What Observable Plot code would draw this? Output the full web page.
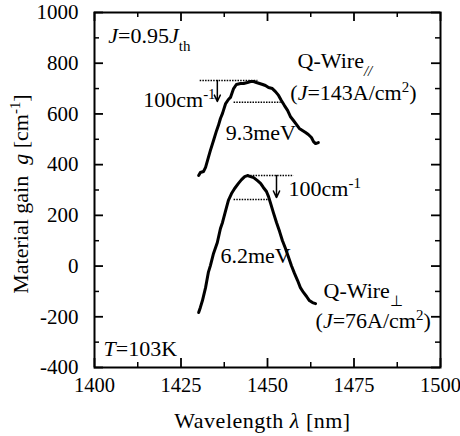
<!DOCTYPE html>
<html><head><meta charset="utf-8">
<script src="https://cdn.jsdelivr.net/npm/d3@7"></script>
<script src="https://cdn.jsdelivr.net/npm/@observablehq/plot@0.6"></script>
<style>html,body{margin:0;padding:0;background:#fff;}</style>
</head><body><div id="chart"></div>
<script>
// ---- scales / ticks ----
const xDomain = [1400, 1500];
const yDomain = [-400, 1000];
const xMajor = [1400, 1425, 1450, 1475, 1500];
const xMinor = [1412.5, 1437.5, 1462.5, 1487.5];
const yMajor = [-400, -200, 0, 200, 400, 600, 800, 1000];
const yMinor = [-300, -100, 100, 300, 500, 700, 900];

// ---- Q-Wire// (J=143A/cm2) ----
const parWl = [1430.1,1430.6,1431.5,1432.1,1432.9,1433.5,1434.4,1435.3,1435.8,1436.4,1437.0,1437.9,1438.7,1439.3,1440.2,1441.0,1442.2,1443.1,1444.2,1445.1,1446.0,1446.8,1447.7,1448.6,1449.4,1450.3,1451.4,1452.3,1453.2,1454.0,1454.9,1455.8,1456.6,1457.5,1458.4,1459.2,1460.1,1461.0,1461.8,1462.7,1463.3,1463.9,1464.7];
const parGain = [357,369,373,389,428,456,495,535,554,582,602,641,657,665,700,716,720,720,724,728,728,724,720,716,712,704,700,688,673,653,633,614,590,574,558,543,535,527,519,507,491,483,487];

// ---- Q-Wire⊥ (J=76A/cm2) ----
const perpWl = [1430.1,1430.6,1431.2,1432.1,1432.9,1433.5,1434.4,1435.5,1436.4,1437.0,1437.9,1438.7,1439.6,1440.5,1441.6,1442.5,1443.4,1444.2,1445.1,1446.0,1447.1,1448.0,1448.8,1449.7,1450.3,1450.9,1451.7,1452.6,1453.5,1454.3,1455.2,1456.1,1456.9,1457.8,1458.7,1459.5,1460.4,1461.3,1462.1,1463.0,1463.9];
const perpGain = [-183,-163,-136,-85,-25,2,50,93,148,172,219,259,286,306,326,341,353,357,353,349,337,326,310,294,274,247,211,172,136,101,69,34,2,-29,-57,-85,-104,-120,-136,-144,-148];

// ---- dotted reference lines (peak and peak-100) ----
const dotX1 = [1430.4, 1440.2, 1444.2, 1440.2];
const dotX2 = [1447.1, 1453.8, 1457.5, 1450.3];
const dotY  = [732, 646, 357, 263];

// ---- 100 cm-1 arrows ----
const arrowX = [1435.5, 1452.6];
const arrowFrom = [732, 357];
const arrowTo = [649, 270];

// ---- annotations ----
const annStartText = ["J=0.95Jth", "Q-Wire//", "(J=143A/cm2)", "9.3meV", "100cm-1", "6.2meV", "Q-Wire⊥", "(J=76A/cm2)", "T=103K"];
const annStartX    = [1404.0, 1458.7, 1456.6, 1437.9, 1456.1, 1436.4, 1466.2, 1463.9, 1402.6];
const annStartY    = [878, 783, 653, 499, 278, 14, -124, -246, -353];
const annEndText = ["100cm-1"];
const annEndX    = [1435.0];
const annEndY    = [629];

const xLabel = "Wavelength λ [nm]";
const yLabel = "Material gain  g [cm-1]";

const rich = {
  "J=0.95Jth": [["J","i"],["=0.95",""],["J","i"],["th","sub"]],
  "Q-Wire//": [["Q-Wire",""],["//","isub"]],
  "(J=143A/cm2)": [["(",""],["J","i"],["=143A/cm",""],["2","sup"],[")",""]],
  "(J=76A/cm2)": [["(",""],["J","i"],["=76A/cm",""],["2","sup"],[")",""]],
  "100cm-1": [["100cm",""],["-1","sup"]],
  "Q-Wire⊥": [["Q-Wire",""],["⊥","sub"]],
  "T=103K": [["T","i"],["=103K",""]],
  "Wavelength λ [nm]": [["Wavelength ",""],["λ","i"],[" [nm]",""]],
  "Material gain  g [cm-1]": [["Material gain\u00a0\u00a0",""],["g","i"],[" [cm",""],["-1","sup"],["]",""]]
};

const W = 460, H = 436, mL = 94, mR = 20, mT = 12, mB = 69;
const innerW = W - mL - mR, innerH = H - mT - mB;
const majorLen = 9, minorLen = 5;

const plot = Plot.plot({
  width: W, height: H,
  marginLeft: mL, marginRight: mR, marginTop: mT, marginBottom: mB,
  style: {fontFamily: "'Liberation Serif', 'Times New Roman', serif", background: "#fff", color: "#000", overflow: "visible"},
  x: {domain: xDomain, label: null},
  y: {domain: yDomain, label: null},
  marks: [
    // inward ticks
    Plot.ruleX(xMajor, {x: d => d, insetTop: innerH - majorLen, strokeWidth: 1.8}),
    Plot.ruleX(xMajor, {x: d => d, insetBottom: innerH - majorLen, strokeWidth: 1.8}),
    Plot.ruleX(xMinor, {x: d => d, insetTop: innerH - minorLen, strokeWidth: 1.5}),
    Plot.ruleX(xMinor, {x: d => d, insetBottom: innerH - minorLen, strokeWidth: 1.5}),
    Plot.ruleY(yMajor, {y: d => d, insetRight: innerW - majorLen, strokeWidth: 1.8}),
    Plot.ruleY(yMajor, {y: d => d, insetLeft: innerW - majorLen, strokeWidth: 1.8}),
    Plot.ruleY(yMinor, {y: d => d, insetRight: innerW - minorLen, strokeWidth: 1.5}),
    Plot.ruleY(yMinor, {y: d => d, insetLeft: innerW - minorLen, strokeWidth: 1.5}),
    Plot.frame({stroke: "#000", strokeWidth: 2}),
    Plot.axisX({ticks: xMajor, tickSize: 0, tickPadding: 10, fontSize: 20.5, tickFormat: d => String(d), label: null}),
    Plot.axisY({ticks: yMajor, tickSize: 0, tickPadding: 16, fontSize: 21, tickFormat: d => String(d), label: null}),
    // dotted lines
    Plot.link(dotY, {x1: dotX1, x2: dotX2, y1: dotY, y2: dotY, stroke: "#000", strokeWidth: 1.5, strokeDasharray: "1.5,1.2"}),
    // arrows
    Plot.arrow(arrowX, {x1: arrowX, x2: arrowX, y1: arrowFrom, y2: arrowTo, stroke: "#000", strokeWidth: 1.5, headLength: 8, headAngle: 50}),
    // curves
    Plot.line(parWl, {x: parWl, y: parGain, stroke: "#000", strokeWidth: 3, strokeLinejoin: "round", strokeLinecap: "round"}),
    Plot.line(perpWl, {x: perpWl, y: perpGain, stroke: "#000", strokeWidth: 3, strokeLinejoin: "round", strokeLinecap: "round"}),
    // annotations
    Plot.text(annStartText, {x: annStartX, y: annStartY, text: annStartText, textAnchor: "start", lineAnchor: "bottom", fontSize: 22, fill: "#000"}),
    Plot.text(annEndText, {x: annEndX, y: annEndY, text: annEndText, textAnchor: "end", lineAnchor: "bottom", fontSize: 22, fill: "#000"}),
    // axis titles
    Plot.text([xLabel], {text: d => d, frameAnchor: "bottom", textAnchor: "middle", dy: 60, dx: -5, lineAnchor: "bottom", fontSize: 22, fill: "#000"}),
    Plot.text([yLabel], {text: d => d, frameAnchor: "left", textAnchor: "middle", rotate: -90, dx: -74, dy: 4, lineAnchor: "middle", fontSize: 22, fill: "#000"})
  ]
});

// rich text: italics, sub/superscripts
const NS = "http://www.w3.org/2000/svg";
plot.querySelectorAll("text").forEach(t => {
  const segs = rich[t.textContent];
  if (!segs) return;
  t.textContent = "";
  for (const [s, st] of segs) {
    const ts = document.createElementNS(NS, "tspan");
    ts.textContent = s;
    if (st.includes("i")) ts.setAttribute("font-style", "italic");
    if (st.includes("sub")) { ts.setAttribute("baseline-shift", "sub"); ts.setAttribute("font-size", "68%"); }
    if (st === "sup") { ts.setAttribute("baseline-shift", "super"); ts.setAttribute("font-size", "68%"); }
    t.appendChild(ts);
  }
});
plot.querySelectorAll("text").forEach(t => {
  if (t.textContent.startsWith("Wavelength")) t.setAttribute("letter-spacing", "0.5");
});
document.getElementById("chart").appendChild(plot);
</script>
</body></html>
